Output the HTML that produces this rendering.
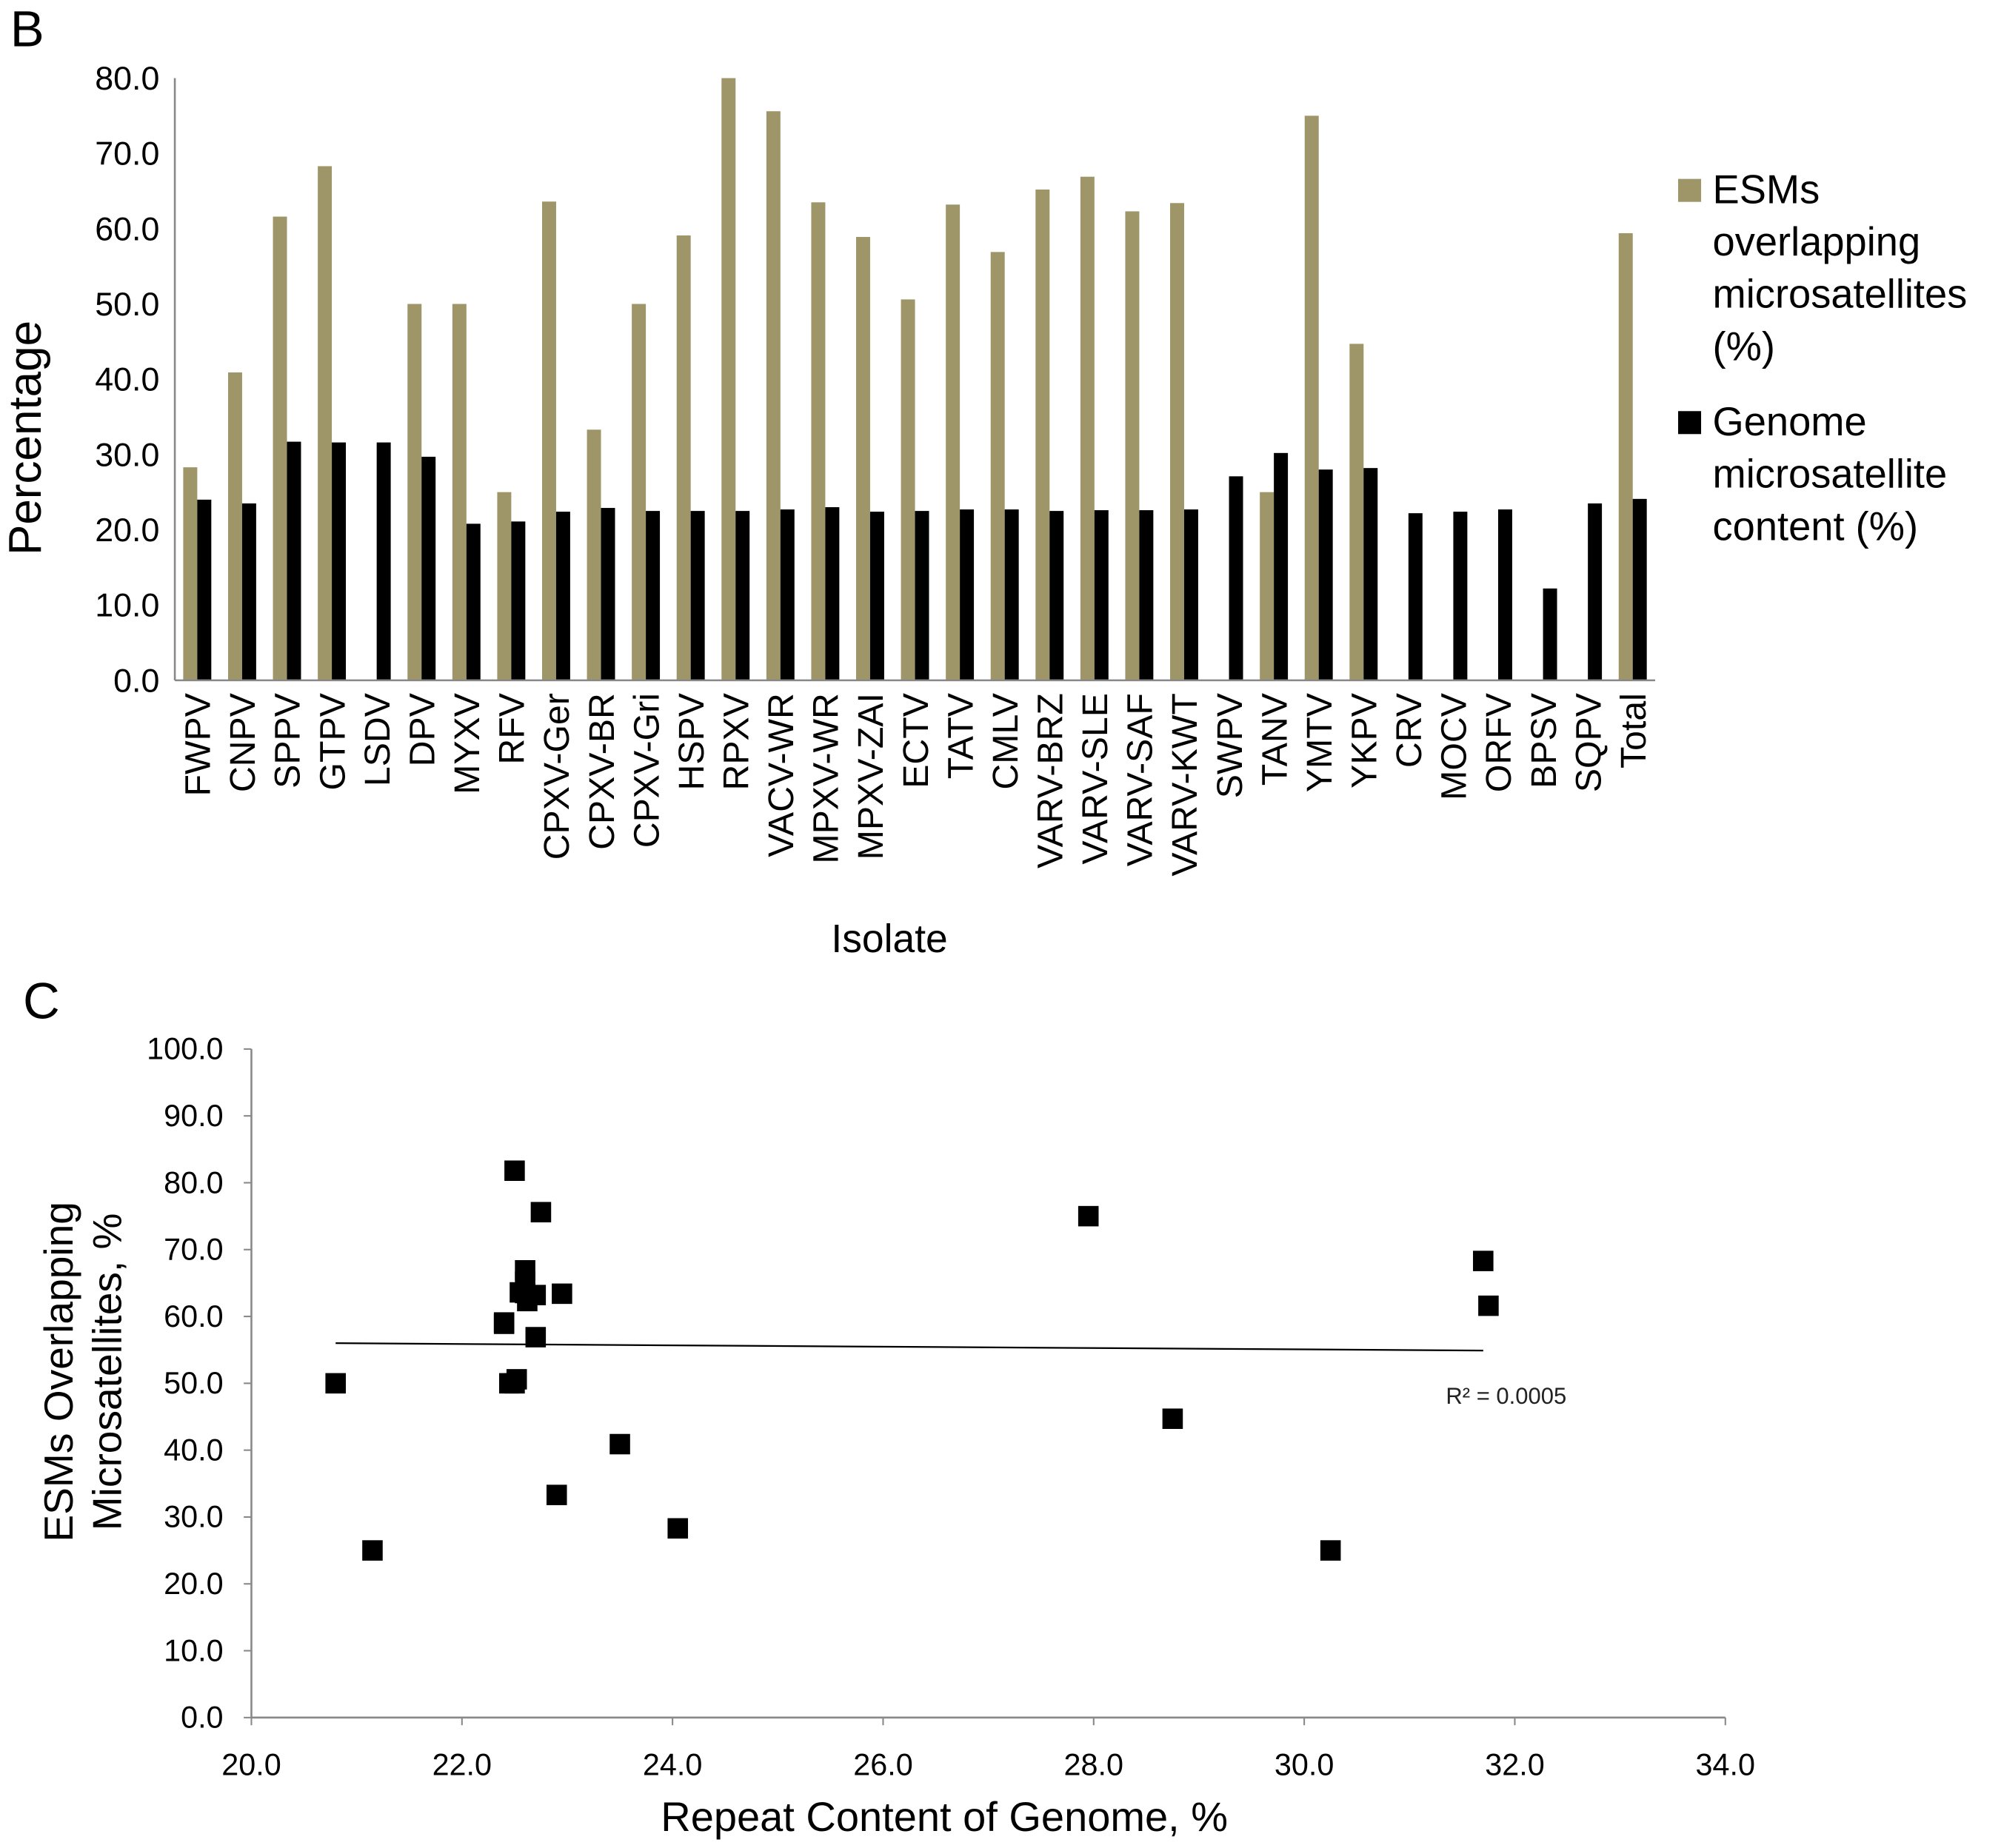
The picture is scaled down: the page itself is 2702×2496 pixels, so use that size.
<!DOCTYPE html>
<html><head><meta charset="utf-8"><style>
html,body{margin:0;padding:0;background:#fff;}
svg{display:block;font-family:"Liberation Sans",sans-serif;}
</style></head><body>
<svg id="root" width="2702" height="2496" viewBox="0 0 1568 1448">
<text x="8" y="36" font-size="40">B</text>
<text x="18" y="798" font-size="40">C</text>
<g id="barchart"></g>
<g id="scatter"></g>
</svg>
<script>
const categories=["FWPV","CNPV","SPPV","GTPV","LSDV","DPV","MYXV","RFV","CPXV-Ger","CPXV-BR","CPXV-Gri","HSPV","RPXV","VACV-WR","MPXV-WR","MPXV-ZAI","ECTV","TATV","CMLV","VARV-BRZ","VARV-SLE","VARV-SAF","VARV-KWT","SWPV","TANV","YMTV","YKPV","CRV","MOCV","ORFV","BPSV","SQPV","Total"];
const esmValues=[28.3,40.9,61.6,68.3,0,50,50,25,63.6,33.3,50,59.1,80,75.6,63.5,58.9,50.6,63.2,56.9,65.2,66.9,62.3,63.4,0,25,75,44.7,0,0,0,0,0,59.4];
const genomeValues=[24.0,23.5,31.7,31.6,31.6,29.7,20.8,21.1,22.4,22.9,22.5,22.5,22.5,22.7,23.0,22.4,22.5,22.7,22.7,22.5,22.6,22.6,22.7,27.1,30.2,28.0,28.2,22.2,22.4,22.7,12.2,23.5,24.1];
const barTicks=[0,10,20,30,40,50,60,70,80];
const scatterX=[24.05,23.5,31.75,31.7,22.45,20.8,21.15,22.55,22.9,22.5,22.4,22.5,22.75,22.6,22.4,22.52,22.7,22.7,22.6,22.6,22.62,22.95,30.25,27.95,28.75];
const scatterY=[28.3,40.9,61.6,68.3,50,50,25,63.6,33.3,50,59.1,81.8,75.6,63.5,58.9,50.6,63.2,56.9,65.2,66.9,62.3,63.4,25,75,44.7];
const scatterXTicks=[20,22,24,26,28,30,32,34];
const scatterYTicks=[0,10,20,30,40,50,60,70,80,90,100];
const trend=[[20.8,56.0],[31.7,54.9]];
const NS="http://www.w3.org/2000/svg";
function mk(parent,tag,attrs,text){const e=document.createElementNS(NS,tag);for(const k in attrs)e.setAttribute(k,attrs[k]);if(text!==undefined)e.textContent=text;parent.appendChild(e);return e;}
const B=document.getElementById('barchart');
const bx0=137,bx1=1297,by0=533,byTop=61;
const by=v=>by0-(v/80)*(by0-byTop);
const bw=(bx1-bx0)/categories.length;
const bcx=i=>bx0+bw*(i+0.5);
let e;
barTicks.forEach(t=>{
e=mk(B,'text',{x:bx0-12,y:by(t)+9,'font-size':26,'text-anchor':'end'},t.toFixed(1));


});
categories.forEach((c,i)=>{
if(esmValues[i]>0){
e=mk(B,'rect',{x:bcx(i)-11,y:by(esmValues[i]),width:11,height:by0-by(esmValues[i]),fill:'#9e9568'});


}
e=mk(B,'rect',{x:bcx(i),y:by(genomeValues[i]),width:11,height:by0-by(genomeValues[i]),fill:'#000'});


e=mk(B,'text',{transform:`translate(${bcx(i)+10},543) rotate(-90)`,'font-size':28,'text-anchor':'end'},c);


});
e=mk(B,'line',{x1:bx0,y1:byTop,x2:bx0,y2:by0,stroke:'#888','stroke-width':1.5});

e=mk(B,'line',{x1:bx0,y1:by0,x2:bx1,y2:by0,stroke:'#888','stroke-width':1.5});

e=mk(B,'text',{x:697,y:746,'font-size':31,'text-anchor':'middle'},'Isolate');

e=mk(B,'text',{transform:'translate(32,343) rotate(-90)','font-size':36,'text-anchor':'middle'},'Percentage');

e=mk(B,'rect',{x:1315,y:140,width:18,height:18,fill:'#9e9568'});

['ESMs','overlapping','microsatellites','(%)'].forEach((t,k)=>{
e=mk(B,'text',{x:1342,y:159+k*41,'font-size':31.5},t);

});
e=mk(B,'rect',{x:1315,y:322,width:18,height:18,fill:'#000'});

['Genome','microsatellite','content (%)'].forEach((t,k)=>{
e=mk(B,'text',{x:1342,y:341+k*41,'font-size':31.5},t);

});
const S=document.getElementById('scatter');
const sx0=197,sx1=1352,sy0=1346,sy1=822;
const sx=v=>sx0+(v-20)/14*(sx1-sx0);
const sy=v=>sy0-v/100*(sy0-sy1);
scatterYTicks.forEach(t=>{
e=mk(S,'text',{x:sx0-22,y:sy(t)+8,'font-size':24,'text-anchor':'end'},t.toFixed(1));

e=mk(S,'line',{x1:sx0-6,y1:sy(t),x2:sx0,y2:sy(t),stroke:'#888','stroke-width':1.2});

});
scatterXTicks.forEach(t=>{
e=mk(S,'text',{x:sx(t),y:1391,'font-size':24,'text-anchor':'middle'},t.toFixed(1));

e=mk(S,'line',{x1:sx(t),y1:sy0,x2:sx(t),y2:sy0+6,stroke:'#888','stroke-width':1.2});

});
e=mk(S,'line',{x1:sx0,y1:sy1,x2:sx0,y2:sy0,stroke:'#888','stroke-width':1.5});

e=mk(S,'line',{x1:sx0,y1:sy0,x2:sx1,y2:sy0,stroke:'#888','stroke-width':1.5});

e=mk(S,'line',{x1:sx(trend[0][0]),y1:sy(trend[0][1]),x2:sx(trend[1][0]),y2:sy(trend[1][1]),stroke:'#000','stroke-width':1.3});

scatterX.forEach((x,i)=>{
e=mk(S,'rect',{x:sx(x)-8,y:sy(scatterY[i])-8,width:16,height:16,fill:'#000'});

});
e=mk(S,'text',{x:1133,y:1100,'font-size':18,fill:'#222'},'R² = 0.0005');

e=mk(S,'text',{x:740,y:1435,'font-size':32.5,'text-anchor':'middle'},'Repeat Content of Genome, %');

e=mk(S,'text',{transform:'translate(57,1075) rotate(-90)','font-size':32,'text-anchor':'middle'},'ESMs Overlapping');

e=mk(S,'text',{transform:'translate(95,1075) rotate(-90)','font-size':32,'text-anchor':'middle'},'Microsatellites, %');

</script>
</body></html>
